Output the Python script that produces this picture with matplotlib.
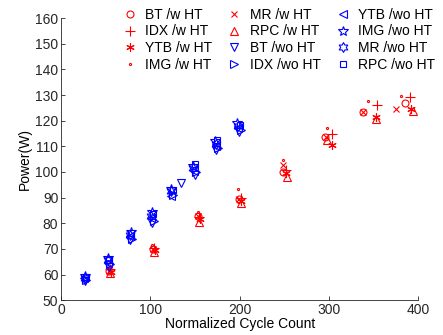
import numpy as np
import matplotlib
matplotlib.use('Agg')
import matplotlib.pyplot as plt
from matplotlib.path import Path

plt.rcParams['font.family'] = ['Liberation Sans', 'DejaVu Sans']
plt.rcParams['font.size'] = 10

# with HT (red)
bt_w_x = [54, 103, 153, 199, 248, 296, 338, 385]
bt_w_y = [61.5, 70, 83, 89.5, 100, 113.6, 123.3, 126.8]
idx_w_x = [55, 104, 155, 201, 252, 303, 354, 391]
idx_w_y = [62, 70.5, 82.5, 90, 100.7, 114.7, 126, 129.2]
ytb_w_x = [56, 105, 156, 202, 252, 303, 353, 392]
ytb_w_y = [61, 69.5, 81.5, 88.5, 99.5, 110.5, 121.4, 124.5]
img_w_x = [54, 102, 153, 198, 249, 298, 344, 381]
img_w_y = [63, 71.5, 84.5, 93.5, 104.6, 117, 127.6, 129.6]
mr_w_x = [54, 103, 153, 199, 248, 297, 338, 375]
mr_w_y = [61.5, 70, 83, 89.5, 102.7, 113.6, 123.3, 124.5]
rpc_w_x = [55, 104, 155, 202, 253, 298, 353, 394]
rpc_w_y = [60.5, 68.8, 80.5, 88, 98, 112.4, 120.6, 123.7]

# without HT (blue)
bt_wo_x = [27, 54, 77, 102, 134, 150, 174, 199]
bt_wo_y = [57.5, 63, 73.5, 80, 95.5, 99, 108.5, 115.5]
idx_wo_x = [28, 55, 79, 104, 125, 151, 176, 201]
idx_wo_y = [58, 64, 74, 81, 91, 100, 109.5, 116.5]
ytb_wo_x = [26, 52, 77, 101, 123, 149, 173, 198]
ytb_wo_y = [58.5, 64.5, 75, 82, 90.5, 100.5, 110, 117]
img_wo_x = [27, 53, 78, 102, 123, 148, 172, 197]
img_wo_y = [59.5, 66.5, 76.5, 84.5, 93.5, 102.5, 112, 119]
mr_wo_x = [27, 52, 77, 101, 123, 148, 173, 198]
mr_wo_y = [58.5, 65.5, 75.5, 83, 92.5, 101.5, 111, 118]
rpc_wo_x = [28, 54, 78, 103, 125, 150, 175, 200]
rpc_wo_y = [59, 65.5, 76, 83.5, 93, 103, 112.5, 118.5]

# hexagram marker (six pointed star outline)
r = np.where(np.arange(12) % 2 == 0, 1.0, 0.577)
ang = np.deg2rad(np.arange(12) * 30 + 90)
hexa = Path(np.column_stack([r * np.cos(ang), r * np.sin(ang)]).tolist() + [[0, 1]], closed=True)

fig = plt.figure(figsize=(4.43, 3.35), dpi=100)
ax = fig.add_axes([0.138, 0.104, 0.806, 0.842])

series = [
    (bt_w_x, bt_w_y, 'o', 'r', 'BT /w HT', 5),
    (idx_w_x, idx_w_y, '+', 'r', 'IDX /w HT', 7),
    (ytb_w_x, ytb_w_y, (6, 2, 0), 'r', 'YTB /w HT', 6),
    (img_w_x, img_w_y, '.', 'r', 'IMG /w HT', 3),
    (mr_w_x, mr_w_y, 'x', 'r', 'MR /w HT', 5),
    (rpc_w_x, rpc_w_y, '^', 'r', 'RPC /w HT', 6),
    (bt_wo_x, bt_wo_y, 'v', 'b', 'BT /wo HT', 6),
    (idx_wo_x, idx_wo_y, '>', 'b', 'IDX /wo HT', 6),
    (ytb_wo_x, ytb_wo_y, '<', 'b', 'YTB /wo HT', 6),
    (img_wo_x, img_wo_y, '*', 'b', 'IMG /wo HT', 7),
    (mr_wo_x, mr_wo_y, hexa, 'b', 'MR /wo HT', 7),
    (rpc_wo_x, rpc_wo_y, 's', 'b', 'RPC /wo HT', 5),
]

for x, y, m, c, lab, ms in series:
    ax.plot(x, y, linestyle='none', marker=m, color=c, markerfacecolor='none',
            markersize=ms, markeredgewidth=0.8, label=lab)

ax.set_xlim(0, 400)
ax.set_ylim(50, 160)
ax.set_xticks([0, 100, 200, 300, 400])
ax.set_yticks(np.arange(50, 161, 10))
ax.tick_params(direction='in', length=3, width=0.6, colors='#262626', labelsize=10, pad=2)
for s in ['top', 'right']:
    ax.spines[s].set_visible(False)
for s in ['left', 'bottom']:
    ax.spines[s].set_color('#262626')
    ax.spines[s].set_linewidth(0.6)

ax.set_xlabel('Normalized Cycle Count', labelpad=0)
ax.set_ylabel('Power(W)', labelpad=2)

fig.legend(loc='upper right', bbox_to_anchor=(1.0, 1.0), ncol=3, frameon=False,
           handletextpad=0.5, columnspacing=1.0, labelspacing=0.2, handlelength=1.2,
           fontsize=10, borderaxespad=0.15)

fig.savefig('out.png', dpi=100)
